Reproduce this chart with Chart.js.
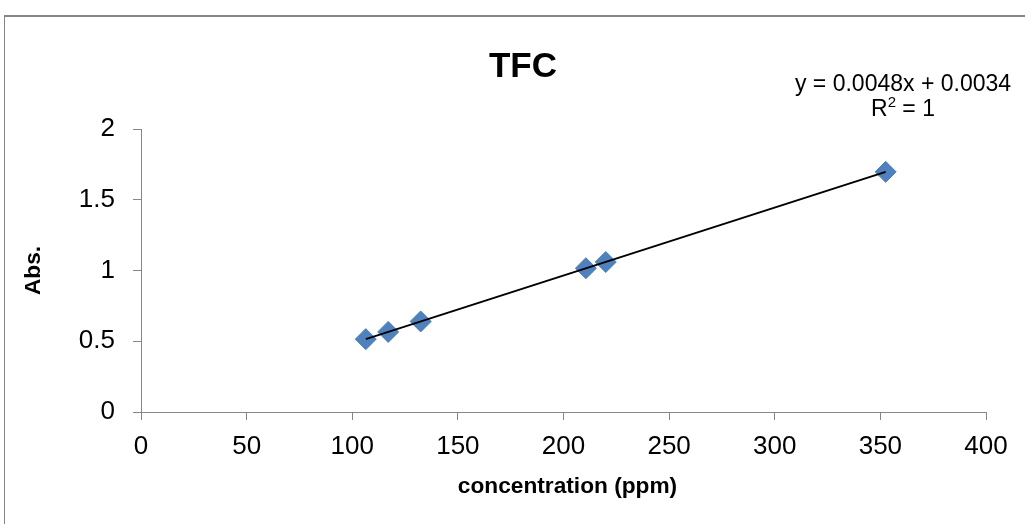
<!DOCTYPE html>
<html>
<head>
<meta charset="utf-8">
<script src="https://cdn.jsdelivr.net/npm/chart.js@4.4.1/dist/chart.umd.min.js"></script>
<style>
  html, body { margin: 0; padding: 0; background: #fff; overflow: hidden; }
  #wrap { position: relative; width: 1025px; height: 524px; }
  canvas { position: absolute; left: 0; top: 0; }
  #frame { position: absolute; left: 4px; top: 15px; width: 1200px; height: 700px;
           border-top: 2px solid #868686; border-left: 1px solid #868686; pointer-events: none; }
</style>
</head>
<body>
<div id="wrap">
  <canvas id="c" width="1025" height="524"></canvas>
  <div id="frame"></div>
</div>
<script>
// ---- data ----
const concentration = [106.4, 117.0, 132.4, 210.6, 220.0, 352.5];
const absorbance    = [0.515, 0.566, 0.640, 1.016, 1.060, 1.697];
const xTickValues = [0, 50, 100, 150, 200, 250, 300, 350, 400];
const yTickValues = [0, 0.5, 1, 1.5, 2];
const yTickLabels = ['0', '0.5', '1', '1.5', '2'];
const chartTitle = 'TFC';
const xAxisTitle = 'concentration (ppm)';
const yAxisTitle = 'Abs.';
const equationText = 'y = 0.0048x + 0.0034';
const r2Parts = ['R', '2', ' = 1'];

// least-squares linear trendline over the data range
function linearFit(xs, ys) {
  const n = xs.length;
  let sx = 0, sy = 0, sxx = 0, sxy = 0;
  for (let i = 0; i < n; i++) { sx += xs[i]; sy += ys[i]; sxx += xs[i] * xs[i]; sxy += xs[i] * ys[i]; }
  const m = (n * sxy - sx * sy) / (n * sxx - sx * sx);
  const b = (sy - m * sx) / n;
  return { m, b };
}
const fit = linearFit(concentration, absorbance);
const xMin = Math.min(...concentration), xMax = Math.max(...concentration);
const trendData = [xMin, xMax].map(x => ({ x, y: fit.m * x + fit.b }));
const pointData = concentration.map((x, i) => ({ x, y: absorbance[i] }));

const FONT = "'Liberation Sans', Arial, sans-serif";

const textPlugin = {
  id: 'texts',
  afterDraw(chart) {
    const ctx = chart.ctx;
    const area = chart.chartArea;
    ctx.save();
    ctx.fillStyle = '#000';
    ctx.textBaseline = 'alphabetic';
    // title
    ctx.font = "bold 35px " + FONT;
    ctx.textAlign = 'center';
    ctx.fillText(chartTitle, 523, 77);
    // equation
    ctx.font = "23px " + FONT;
    ctx.fillText(equationText, 903, 91);
    // R² line with a real superscript
    const mainFont = "23px " + FONT, supFont = "15px " + FONT;
    ctx.font = mainFont; const w0 = ctx.measureText(r2Parts[0]).width; const w2 = ctx.measureText(r2Parts[2]).width;
    ctx.font = supFont; const w1 = ctx.measureText(r2Parts[1]).width;
    let x = 903 - (w0 + w1 + w2) / 2;
    ctx.textAlign = 'left';
    ctx.font = mainFont; ctx.fillText(r2Parts[0], x, 116); x += w0;
    ctx.font = supFont; ctx.fillText(r2Parts[1], x, 107); x += w1;
    ctx.font = mainFont; ctx.fillText(r2Parts[2], x, 116);
    ctx.textAlign = 'center';
    // x axis title
    ctx.font = "bold 22.7px " + FONT;
    ctx.fillText(xAxisTitle, (area.left + area.right) / 2 + 4, 493);
    // y axis title
    ctx.translate(40, (area.top + area.bottom) / 2);
    ctx.rotate(-Math.PI / 2);
    ctx.fillText(yAxisTitle, 0, 0);
    ctx.restore();
  }
};

new Chart(document.getElementById('c'), {
  type: 'scatter',
  data: {
    datasets: [
      {
        type: 'line',
        data: trendData,
        borderColor: '#000',
        borderWidth: 2,
        pointRadius: 0,
        fill: false,
        order: 0
      },
      {
        data: pointData,
        pointStyle: 'rectRot',
        pointRadius: 10.5,
        backgroundColor: '#4F81BD',
        borderColor: '#4A7EBB',
        borderWidth: 1,
        order: 1
      }
    ]
  },
  options: {
    responsive: false,
    maintainAspectRatio: false,
    animation: false,
    events: [],
    layout: { padding: { left: 0, top: 129, right: 39, bottom: 0 } },
    plugins: { legend: { display: false }, tooltip: { enabled: false }, title: { display: false } },
    scales: {
      x: {
        type: 'linear',
        min: 0, max: 400,
        afterFit(s) { s.height = 112; },
        afterBuildTicks(s) { s.ticks = xTickValues.map(v => ({ value: v })); },
        ticks: { color: '#000', font: { family: FONT, size: 26 }, padding: 11, maxRotation: 0,
                 callback: (v) => String(v) },
        grid: { drawOnChartArea: false, drawTicks: true, tickLength: 8, color: '#868686', lineWidth: 1 },
        border: { color: '#868686', width: 1 }
      },
      y: {
        type: 'linear',
        min: 0, max: 2,
        afterFit(s) { s.width = 141; },
        afterBuildTicks(s) { s.ticks = yTickValues.map(v => ({ value: v })); },
        ticks: { color: '#000', font: { family: FONT, size: 26 }, padding: 18,
                 callback: (v) => yTickLabels[yTickValues.indexOf(v)] },
        grid: { drawOnChartArea: false, drawTicks: true, tickLength: 8, color: '#868686', lineWidth: 1 },
        border: { color: '#868686', width: 1 }
      }
    }
  },
  plugins: [textPlugin]
});
</script>
</body>
</html>
